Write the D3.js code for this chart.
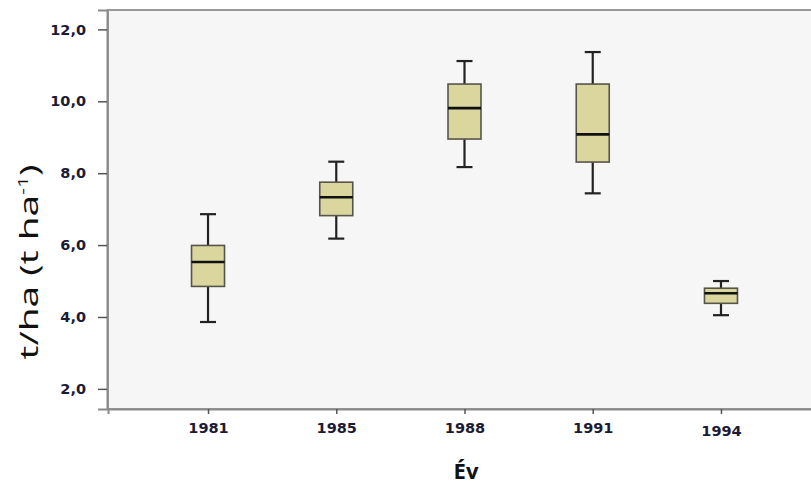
<!DOCTYPE html>
<html>
<head>
<meta charset="utf-8">
<script src="https://cdn.jsdelivr.net/npm/d3@7"></script>
<style>
  body { margin: 0; background: #fff; }
  svg { display: block; }
  .tick text { font-family: "DejaVu Sans", Verdana, sans-serif; font-weight: bold; font-size: 14.5px; fill: #1b1b36; }
</style>
</head>
<body>
<div id="chart"></div>
<script>
// data
var years = ['1981', '1985', '1988', '1991', '1994']
var whiskerLow = [3.86, 6.18, 8.17, 7.44, 4.05]
var q1 = [4.85, 6.82, 8.95, 8.31, 4.38]
var median = [5.53, 7.33, 9.81, 9.08, 4.66]
var q3 = [5.99, 7.75, 10.48, 10.48, 4.80]
var whiskerHigh = [6.86, 8.32, 11.12, 11.37, 5.00]
var yTicks = [2, 4, 6, 8, 10, 12]

var width = 811, height = 488
var plot = { left: 108, top: 10, right: 821, bottom: 409 }
var boxW = 33, capW = 16

var svg = d3.select('#chart').append('svg')
  .attr('width', width)
  .attr('height', height)

var x = d3.scalePoint()
  .domain(years)
  .range([plot.left, plot.right])
  .padding(0.78)

var y = d3.scaleLinear()
  .domain([1.44, 12.54])
  .range([plot.bottom, plot.top])

// plot background + frame
svg.append('rect')
  .attr('x', plot.left)
  .attr('y', plot.top)
  .attr('width', plot.right - plot.left)
  .attr('height', plot.bottom - plot.top)
  .attr('fill', '#f6f6f6')
  .attr('stroke', '#9a9a9a')
  .attr('stroke-width', 2)

var fmt = d => d3.format('.1f')(d).replace('.', ',')

// y axis
var yAxis = svg.append('g')
  .attr('transform', 'translate(' + (plot.left - 1) + ',0)')
  .call(d3.axisLeft(y).tickValues(yTicks).tickFormat(fmt).tickSize(9).tickPadding(12))
yAxis.select('.domain').attr('stroke', '#8a8a8a').attr('stroke-width', 2)
yAxis.selectAll('.tick line').attr('stroke', '#555').attr('stroke-width', 1.5)

// x axis
var xAxis = svg.append('g')
  .attr('transform', 'translate(0,' + plot.bottom + ')')
  .call(d3.axisBottom(x).tickSize(5).tickPadding(9))
xAxis.select('.domain').attr('stroke', '#8a8a8a').attr('stroke-width', 2)
xAxis.selectAll('.tick line').attr('stroke', '#555').attr('stroke-width', 1.5)
xAxis.selectAll('.tick text').attr('y', d => d === '1994' ? 17 : 14)

// boxes
var data = years.map((yr, i) => ({
  year: yr, lo: whiskerLow[i], q1: q1[i], med: median[i], q3: q3[i], hi: whiskerHigh[i]
}))

var box = svg.append('g').selectAll('g.box')
  .data(data)
  .enter().append('g')
  .attr('class', 'box')
  .attr('transform', d => 'translate(' + x(d.year) + ',0)')

// whiskers
box.append('line')
  .attr('x1', 0).attr('x2', 0)
  .attr('y1', d => y(d.hi)).attr('y2', d => y(d.q3))
  .attr('stroke', '#222').attr('stroke-width', 2.2)
box.append('line')
  .attr('x1', 0).attr('x2', 0)
  .attr('y1', d => y(d.q1)).attr('y2', d => y(d.lo))
  .attr('stroke', '#222').attr('stroke-width', 2.2)
box.append('line')
  .attr('x1', -capW / 2).attr('x2', capW / 2)
  .attr('y1', d => y(d.hi)).attr('y2', d => y(d.hi))
  .attr('stroke', '#222').attr('stroke-width', 2.2)
box.append('line')
  .attr('x1', -capW / 2).attr('x2', capW / 2)
  .attr('y1', d => y(d.lo)).attr('y2', d => y(d.lo))
  .attr('stroke', '#222').attr('stroke-width', 2.2)

box.append('rect')
  .attr('x', -boxW / 2)
  .attr('width', boxW)
  .attr('y', d => y(d.q3))
  .attr('height', d => y(d.q1) - y(d.q3))
  .attr('fill', '#dbd69e')
  .attr('stroke', '#55554a')
  .attr('stroke-width', 1.6)

box.append('line')
  .attr('x1', -boxW / 2).attr('x2', boxW / 2)
  .attr('y1', d => y(d.med)).attr('y2', d => y(d.med))
  .attr('stroke', '#111').attr('stroke-width', 2.6)

// axis titles
svg.append('text')
  .attr('x', 466)
  .attr('y', 479)
  .attr('text-anchor', 'middle')
  .style('font-family', '"Open Sans", sans-serif')
  .style('font-weight', 'bold')
  .style('font-size', '22px')
  .attr('fill', '#111')
  .text('Év')

var yTitle = svg.append('text')
  .attr('text-anchor', 'middle')
  .style('font-family', '"Open Sans", sans-serif')
  .style('font-weight', 500)
  .style('font-size', '26px')
  .attr('fill', '#111')
yTitle.append('tspan').text('t/ha (t ha')
yTitle.append('tspan').attr('dy', -10).style('font-size', '14px').text('-1')
yTitle.append('tspan').attr('dy', 10).text(')')

// stretch the title along its length to match the reference
var len = yTitle.node().getComputedTextLength()
var sx = 195 / len
yTitle.attr('transform', 'translate(38,262) rotate(-90) scale(' + sx + ',1)')
</script>
</body>
</html>
